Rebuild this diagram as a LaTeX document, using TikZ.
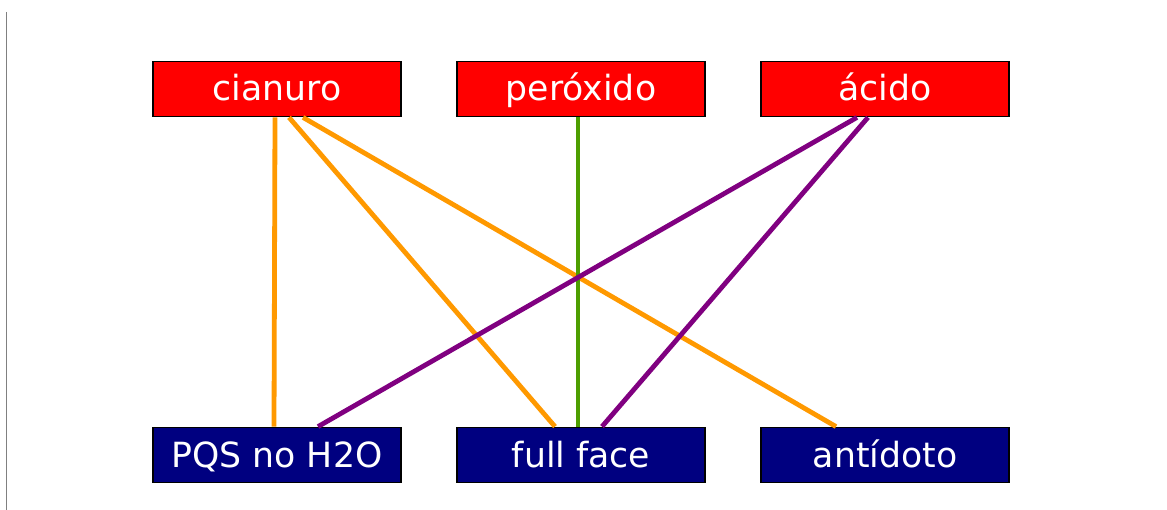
\documentclass[tikz,border=0pt]{standalone}
\usepackage{fontspec}
\setmainfont{DejaVu Sans}
\usetikzlibrary{calc}
\definecolor{boxred}{RGB}{255,0,0}
\definecolor{boxnavy}{RGB}{0,0,128}
\definecolor{lorange}{RGB}{255,153,0}
\definecolor{lgreen}{RGB}{77,158,0}
\definecolor{lpurple}{RGB}{128,0,128}
\definecolor{axisgray}{RGB}{128,128,128}
\tikzset{
  x=1bp, y=-1bp,
  tbox/.style={draw=black, line width=1.8bp, minimum width=248bp, minimum height=55bp, inner sep=0pt, text height=30bp, text depth=6bp, text=white, font=\fontsize{34.8}{40}\selectfont},
  topbox/.style={tbox, fill=boxred},
  botbox/.style={tbox, fill=boxnavy},
  link/.style={line width=4.8bp},
}
\begin{document}
\begin{tikzpicture}
\useasboundingbox (0,0) rectangle (1167,510);
\fill[white] (0,0) rectangle (1167,510);
\coordinate (axt) at (6.5,12);
\coordinate (axb) at (6.5,510);
\draw[axisgray, line width=1.5bp] (axt) -- (axb);
\node[topbox] (cia) at (277,89) {cianuro};
\node[topbox] (per) at (581,89) {peróxido};
\node[topbox] (aci) at (885,89) {ácido};
\node[botbox] (pqs) at (277,455) {PQS no H2O};
\node[botbox] (ff) at (581,455) {full face};
\node[botbox] (ant) at (885,455) {antídoto};
\draw[link, lorange] ($(cia.south)+(-2,0)$) -- ($(pqs.north)+(-3,0)$);
\draw[link, lorange] ($(cia.south)+(12,0)$) -- ($(ff.north)+(-26,0)$);
\draw[link, lorange] ($(cia.south)+(26,0)$) -- ($(ant.north)+(-49,0)$);
\draw[link, lgreen] ($(per.south)+(-3,0)$) -- ($(ff.north)+(-3,0)$);
\draw[link, lpurple] ($(aci.south)+(-28,0)$) -- ($(pqs.north)+(41,0)$);
\draw[link, lpurple] ($(aci.south)+(-17,0)$) -- ($(ff.north)+(21,0)$);
\end{tikzpicture}
\end{document}
